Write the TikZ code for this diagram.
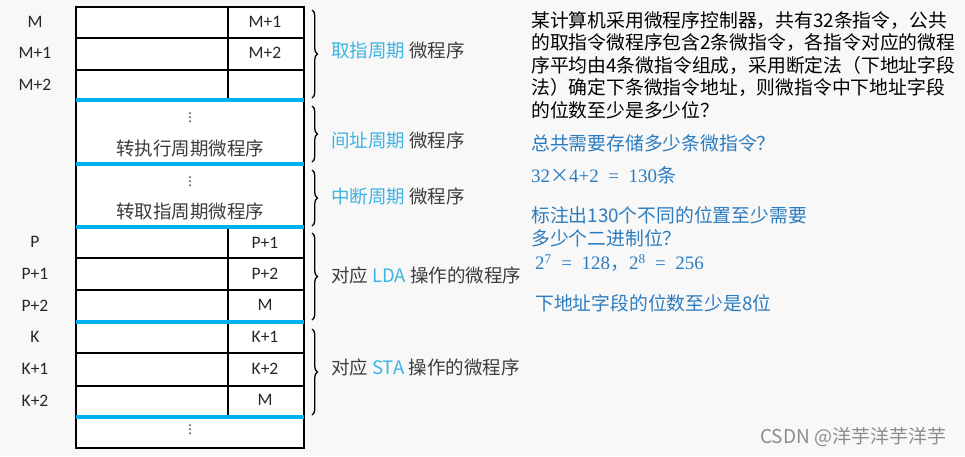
\documentclass[tikz,border=0pt]{standalone}
\usepackage{fontspec}
\setmainfont{Carlito}
\newfontfamily\cjk{Noto Sans CJK SC}
\newfontfamily\numf{Liberation Serif}
\newfontfamily\symf{DejaVu Sans}
\usetikzlibrary{decorations.pathreplacing}

\definecolor{barblue}{RGB}{0,176,240}
\definecolor{lblblue}{RGB}{60,180,228}
\definecolor{txtblue}{RGB}{44,124,192}
\definecolor{lblgray}{RGB}{60,60,60}
\definecolor{pagegray}{RGB}{248,248,248}

\tikzset{
  addr/.style={font=\fontsize{17.5}{17.5}\selectfont, text=black!85, inner sep=0pt},
  lbl/.style={font=\cjk\fontsize{18.5}{18.5}\selectfont, text=lblgray, anchor=west, inner sep=0pt},
  para/.style={font=\cjk\fontsize{18.8}{18.8}\selectfont, anchor=west, inner sep=0pt},
  ans/.style={para, text=txtblue},
  calc/.style={ans, font=\numf\fontsize{19}{19}\selectfont},
  dots/.style={font=\symf\fontsize{12}{12}\selectfont, inner sep=0pt}
}
\tikzset{
  bar/.style={barblue, line width=4pt},
  cell/.style={black, line width=1.6pt},
  curly/.style={decorate, decoration={brace, amplitude=5.5pt}, line width=1.3pt}
}

\begin{document}
\begin{tikzpicture}[x=1pt, y=-1pt]
	\useasboundingbox[fill=pagegray] (0,0) rectangle (965,456);
	
	% draw memory table
	\fill[white] (76,7) rectangle (304,448);
	\foreach \y in {38, 70, 258, 290, 353, 386}
	\draw[cell] (76,\y) -- (304,\y);
	\draw[cell] (228,7) -- (228,100);
	\draw[cell] (228,227) -- (228,417);
	\draw[cell] (76,7) rectangle (304,448);
	\foreach \y in {100, 164, 227, 322, 417}
	\draw[bar] (76,\y) -- (304,\y);
	
	% draw addresses
	\foreach \y/\t [count=\i] in {22/M, 53/M+1, 85/M+2, 242/P, 274/P+1, 306/P+2, 337/K, 369/K+1, 401/K+2}
	\node[addr] (adr\i) at (35,\y) {\t};
	
	% draw next addresses
	\foreach \y/\t [count=\i] in {22/M+1, 53/M+2, 243/P+1, 274/P+2, 305/M, 337/K+1, 369/K+2, 400/M}
	\node[addr] (nxt\i) at (265,\y) {\t};
	
	% draw dots and block texts
	\node[dots] (dotsa) at (190,118) {⋮};
	\node[dots] (dotsb) at (190,182) {⋮};
	\node[dots] (dotsc) at (190,430) {⋮};
	\node[lbl, anchor=center] (exec) at (190,148) {转执行周期微程序};
	\node[lbl, anchor=center] (fetch) at (190,211) {转取指周期微程序};
	
	% draw braces
	\foreach \a/\b [count=\i] in {10/98, 106/162, 170/226, 233/320, 329/415} {
		\coordinate (bt\i) at (312,\a);
		\coordinate (bb\i) at (312,\b);
		\draw[curly] (bt\i) -- (bb\i);
	}
	
	% draw brace labels
	\node[lbl] (lblfetch) at (331,50) {\textcolor{lblblue}{取指周期} 微程序};
	\node[lbl] (lblind) at (331,140) {\textcolor{lblblue}{间址周期} 微程序};
	\node[lbl] (lblint) at (331,196) {\textcolor{lblblue}{中断周期} 微程序};
	\node[lbl] (lbllda) at (331,275) {对应 \textcolor{lblblue}{LDA} 操作的微程序};
	\node[lbl] (lblsta) at (331,367) {对应 \textcolor{lblblue}{STA} 操作的微程序};
	
	% draw question
	\node[para] (qa) at (531,21) {某计算机采用微程序控制器，共有32条指令，公共};
	\node[para] (qb) at (531,43) {的取指令微程序包含2条微指令，各指令对应的微程};
	\node[para] (qc) at (531,65) {序平均由4条微指令组成，采用断定法（下地址字段};
	\node[para] (qd) at (531,87) {法）确定下条微指令地址，则微指令中下地址字段};
	\node[para] (qe) at (531,110) {的位数至少是多少位？};
	
	% draw answer
	\node[ans] (aa) at (531,143) {总共需要存储多少条微指令？};
	\node[calc] (ab) at (531,175) {32{\cjk ×}4+2 \ = \ 130{\cjk 条}};
	\node[ans] (ac) at (531,215) {标注出130个不同的位置至少需要};
	\node[ans] (ad) at (531,238) {多少个二进制位？};
	\node[calc] (ae) at (535,263) {2\textsuperscript{7} \ = \ 128{\cjk ，}2\textsuperscript{8} \ = \ 256};
	\node[ans] (af) at (535,303) {下地址字段的位数至少是8位};
	
	% draw watermark
	\node[font=\cjk\fontsize{19}{19}\selectfont, text=black!45, anchor=west, inner sep=0pt] (mark) at (760,437) {CSDN @洋芋洋芋洋芋};
\end{tikzpicture}
\end{document}
